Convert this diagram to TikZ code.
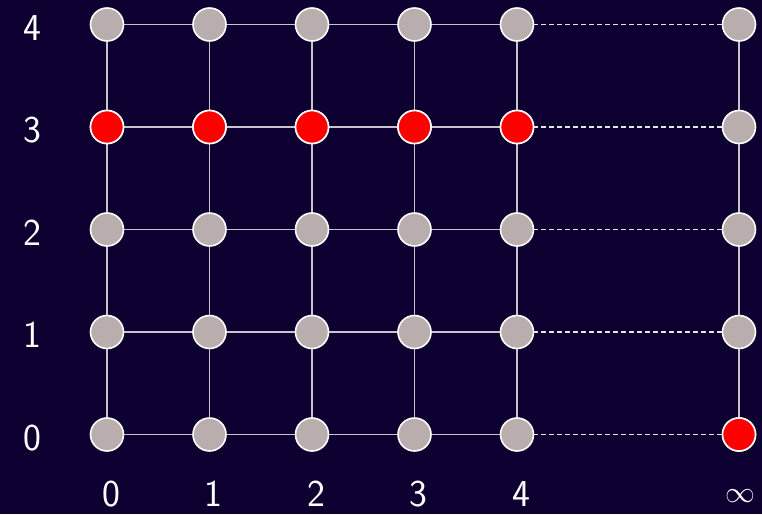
\documentclass[tikz,border=0pt]{standalone}
\usepackage{fontspec}
\setsansfont{Latin Modern Sans}
\begin{document}
\begin{tikzpicture}[x=1pt,y=-1pt,
  vtx/.style={circle,draw=white,line width=1.6pt,fill=nodegrey,minimum size=33pt,inner sep=0pt},
  hot/.style={vtx,fill=red},
  edge/.style={draw=linegrey,line width=1.4pt},
  far/.style={draw=white!90!black,line width=1.3pt,dash pattern=on 5pt off 3pt},
  lbl/.style={text=white,font=\sffamily\fontsize{38}{44}\selectfont,inner sep=0pt}]
\definecolor{bg}{HTML}{0D0030}
\definecolor{nodegrey}{HTML}{BAADAD}
\definecolor{linegrey}{HTML}{C8C4CC}
\fill[bg] (0,0) rectangle (762,514);
\useasboundingbox (0,0) rectangle (762,514);
% coordinates
\foreach \i/\x in {0/107,1/209.5,2/312,3/414.5,4/517,5/739}{
  \foreach \j/\y in {0/434.5,1/332,2/229.5,3/127,4/24.5}{
    \coordinate (p\i\j) at (\x,\y);
  }
}
% edges
\foreach \j in {0,...,4}{
  \foreach \i [evaluate=\i as \n using int(\i+1)] in {0,...,3}{
    \draw[edge] (p\i\j) -- (p\n\j);
  }
  \draw[far] (p4\j) -- (p5\j);
}
\foreach \i in {0,...,5}{
  \foreach \j [evaluate=\j as \n using int(\j+1)] in {0,...,3}{
    \draw[edge] (p\i\j) -- (p\i\n);
  }
}
% nodes
\foreach \i in {0,...,5}{
  \foreach \j in {0,...,4}{
    \node[vtx] (n\i\j) at (p\i\j) {};
  }
}
\foreach \i in {0,...,4}{ \node[hot] (r\i) at (p\i3) {}; }
\node[hot] (rinf) at (p50) {};
% labels
\foreach \j/\y in {0/438,1/335,2/233,3/130,4/28}{
  \node[lbl] (ly\j) at (32,\y) {\j};
}
\foreach \i/\x in {0/111,1/213,2/316,3/418,4/521}{
  \node[lbl] (lx\i) at (\x,494) {\i};
}
\node[lbl] (lxinf) at (740,496) {\scalebox{1.2}{$\infty$}};
\end{tikzpicture}
\end{document}
